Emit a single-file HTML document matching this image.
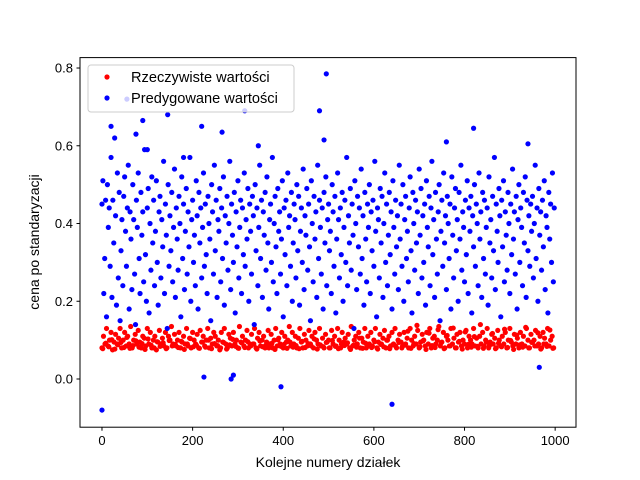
<!DOCTYPE html>
<html><head><meta charset="utf-8"><style>
body{margin:0;background:#fff}
svg{display:block;font-family:"Liberation Sans","DejaVu Sans",sans-serif}
</style></head><body>
<svg id="chart" width="640" height="480">
<rect width="640" height="480" fill="#fff"/>
<g id="red"></g>
<g id="blue"></g>
<rect x="80" y="57.6" width="496" height="369.6" fill="none" stroke="#000" stroke-width="1"/>
<g id="xticks"></g>
<g id="yticks"></g>
<text x="328" y="467" font-size="14" text-anchor="middle">Kolejne numery działek</text>
<text transform="translate(39,242) rotate(-90)" font-size="14" text-anchor="middle">cena po standaryzacji</text>
<g>
<rect x="88" y="65" width="206" height="47" rx="3" fill="#fff" fill-opacity="0.8" stroke="#ccc"/>
<circle cx="107" cy="77" r="2.6" fill="#f00"/>
<text x="131" y="82" font-size="14.6">Rzeczywiste wartości</text>
<circle cx="107" cy="98" r="2.6" fill="#00f"/>
<text x="131" y="103" font-size="14.6">Predygowane wartości</text>
</g>
</svg>
<script>
const xTicks=[0,200,400,600,800,1000];
const yTicks=[0.0,0.2,0.4,0.6,0.8];
const yTickLabels=["0.0","0.2","0.4","0.6","0.8"];
const blueValues=[.45,.51,.22,.31,.46,.16,.50,.39,.44,.29,.57,.21,.46,.35,.62,.42,.19,.53,.26,.48,.15,.33,.41,.24,.47,
.52,.38,.29,.44,.55,.18,.43,.36,.23,.50,.41,.27,.14,.46,.39,.53,.31,.22,.48,.37,.43,.25,.59,.32,.20,
.44,.49,.17,.40,.28,.52,.35,.46,.24,.38,.51,.30,.19,.43,.47,.26,.41,.34,.56,.22,.45,.37,.13,.50,.29,
.42,.33,.48,.25,.39,.54,.21,.44,.36,.28,.47,.40,.16,.52,.31,.45,.23,.38,.49,.27,.43,.34,.57,.20,.41,
.46,.30,.37,.24,.51,.42,.18,.48,.35,.44,.26,.39,.53,.29,.45,.32,.22,.47,.40,.36,.15,.50,.43,.27,.55,
.33,.46,.21,.41,.38,.49,.25,.44,.31,.52,.19,.42,.35,.47,.28,.40,.56,.23,.45,.37,.30,.48,.17,.43,.34,
.51,.26,.39,.46,.22,.44,.32,.53,.29,.41,.36,.49,.20,.45,.38,.27,.47,.42,.14,.50,.33,.44,.24,.39,.55,
.31,.46,.21,.43,.37,.48,.28,.52,.35,.18,.41,.45,.30,.57,.25,.40,.47,.34,.22,.49,.38,.43,.27,.36,.51,
.16,.44,.32,.46,.24,.53,.39,.42,.29,.48,.20,.35,.45,.41,.26,.50,.33,.47,.19,.38,.44,.30,.54,.23,.42,
.37,.49,.28,.45,.34,.15,.51,.40,.25,.47,.36,.43,.21,.55,.31,.46,.39,.27,.44,.18,.48,.35,.52,.24,.41,
.45,.33,.38,.22,.50,.43,.29,.47,.17,.36,.53,.41,.26,.44,.32,.48,.20,.39,.46,.30,.57,.24,.42,.35,.49,
.28,.45,.37,.13,.51,.40,.23,.47,.34,.44,.27,.54,.31,.42,.19,.48,.36,.25,.45,.39,.50,.22,.43,.33,.46,
.29,.56,.38,.16,.44,.41,.26,.49,.35,.47,.21,.40,.53,.30,.45,.24,.37,.48,.32,.43,.18,.51,.39,.27,.46,
.34,.42,.23,.55,.36,.45,.29,.50,.20,.41,.47,.31,.38,.25,.44,.52,.33,.17,.48,.40,.28,.46,.35,.43,.22,
.54,.37,.49,.26,.42,.30,.45,.19,.51,.39,.34,.47,.24,.44,.56,.32,.41,.21,.48,.36,.27,.43,.50,.15,.38,
.46,.29,.53,.35,.42,.23,.47,.40,.31,.45,.18,.52,.37,.26,.44,.49,.33,.41,.20,.48,.36,.55,.28,.43,.39,
.25,.46,.32,.51,.22,.44,.38,.47,.17,.42,.34,.50,.29,.45,.40,.24,.53,.36,.43,.21,.48,.31,.46,.27,.39,
.44,.19,.52,.35,.41,.26,.47,.33,.57,.23,.45,.38,.30,.49,.42,.16,.46,.34,.51,.25,.43,.37,.28,.48,.40,
.22,.45,.32,.54,.36,.43,.27,.47,.18,.41,.50,.30,.44,.39,.24,.48,.35,.52,.21,.46,.33,.42,.29,.45,.38,
.47,.26,.40,.55,.31,.44,.20,.49,.37,.43,.28,.46,.34,.51,.23,.42,.39,.17,.48,.36,.45,.30,.53,.25,.44];
const blueOutlierX=[0,20,55,75,90,145,220,225,265,285,290,315,345,395,480,490,495,640,760,820,940,965,100,180];
const blueOutlierY=[-0.08,0.65,0.72,0.63,0.665,0.68,0.65,0.005,0.635,0,0.01,0.69,0.60,-0.02,0.69,0.615,0.785,-0.065,0.61,0.645,0.605,0.03,0.59,0.57];
const redValues=[.08,.11,.09,.13,.085,.10,.12,.075,.095,.115,.09,.105,.13,.08,.10,.12,.085,.11,.09,.135,.08,.10,.115,.09,.125,
.095,.08,.11,.105,.085,.13,.09,.12,.08,.10,.11,.075,.095,.125,.09,.105,.085,.12,.08,.11,.10,.135,.09,.115,.085,
.10,.12,.08,.095,.11,.09,.13,.085,.105,.08,.12,.10,.09,.115,.08,.125,.095,.11,.085,.10,.13,.08,.105,.09,.12,
.11,.085,.10,.075,.12,.095,.13,.09,.08,.115,.105,.085,.12,.09,.10,.08,.135,.095,.11,.085,.10,.125,.08,.09,.115,
.09,.13,.08,.105,.12,.085,.10,.11,.08,.095,.125,.09,.115,.08,.10,.13,.085,.105,.09,.12,.08,.11,.095,.10,.135,
.085,.12,.09,.11,.08,.105,.13,.095,.08,.115,.10,.085,.125,.09,.11,.08,.12,.10,.09,.13,.085,.105,.08,.115,.095,
.10,.08,.125,.09,.11,.085,.13,.10,.08,.12,.095,.105,.09,.115,.08,.135,.085,.10,.11,.09,.12,.08,.105,.095,.13,
.08,.11,.09,.12,.085,.10,.13,.08,.095,.115,.09,.105,.125,.08,.10,.11,.085,.12,.09,.13,.08,.10,.115,.095,.085,
.12,.09,.105,.08,.13,.10,.085,.11,.09,.125,.08,.095,.115,.10,.085,.12,.09,.13,.08,.105,.11,.09,.10,.135,.085,
.095,.12,.08,.11,.10,.085,.13,.09,.105,.08,.115,.095,.12,.085,.10,.09,.125,.08,.11,.10,.09,.13,.085,.105,.08,
.11,.09,.12,.085,.10,.13,.08,.095,.115,.09,.105,.08,.125,.10,.085,.11,.09,.12,.08,.10,.13,.095,.085,.115,.09,
.105,.08,.12,.09,.11,.085,.13,.10,.08,.115,.095,.10,.125,.085,.09,.11,.08,.12,.105,.09,.13,.085,.10,.11,.08,
.078,.092,.083,.101,.077,.088,.094,.081,.107,.079,.086,.098,.082,.091,.076,.103,.087,.080,.096,.084,.093,.078,.099,.085,.089,
.081,.097,.076,.090,.104,.083,.087,.079,.095,.082,.100,.078,.091,.086,.080,.094,.077,.088,.102,.084,.079,.093,.081,.096,.085,
.090,.077,.098,.083,.087,.080,.092,.076,.101,.084,.089,.079,.095,.082,.086,.078,.097,.081,.091,.085,.103,.077,.088,.083,.094,
.080,.099,.084,.078,.090,.086,.093,.076,.087,.082,.105,.079,.092,.085,.081,.096,.077,.089,.083,.100,.078,.088,.084,.094,.080,
.087,.123,.079,.091,.138,.083,.098,.076,.118,.086,.081,.127,.093,.078,.112,.085,.131,.080,.097,.077,.121,.089,.082,.109,.084,
.140,.079,.095,.086,.117,.078,.092,.083,.128,.081,.099,.076,.113,.088,.082,.133,.080,.094,.085,.119,.077,.090,.084,.126,.079];
const NS="http://www.w3.org/2000/svg";
const X0=80,X1=576,Y0=57.6,Y1=427.2,XMIN=-48.5,XMAX=1046,YMIN=-0.124,YMAX=0.8268;
function xs(v){return X0+(v-XMIN)/(XMAX-XMIN)*(X1-X0);}
function ys(v){return Y1-(v-YMIN)/(YMAX-YMIN)*(Y1-Y0);}
function dot(g,x,y,c){const el=document.createElementNS(NS,"circle");
el.setAttribute("cx",xs(x));el.setAttribute("cy",ys(y));el.setAttribute("r",2.6);el.setAttribute("fill",c);


g.appendChild(el);}
const rg=document.getElementById("red"),bg=document.getElementById("blue");
const half=300;
redValues.forEach((v,i)=>{const x=i<half? i*1000/half : (i-half)*1000/(redValues.length-half)+1.7; dot(rg,x,v,"#f00");});
blueValues.forEach((v,i)=>dot(bg,i*1000/blueValues.length,v,"#00f"));
blueOutlierX.forEach((x,i)=>dot(bg,x,blueOutlierY[i],"#00f"));
const xg=document.getElementById("xticks"),yg=document.getElementById("yticks");
xTicks.forEach(t=>{const x=xs(t);
const l=document.createElementNS(NS,"line");l.setAttribute("x1",x);l.setAttribute("x2",x);l.setAttribute("y1",Y1);l.setAttribute("y2",Y1+3.5);l.setAttribute("stroke","#000");


xg.appendChild(l);
const tx=document.createElementNS(NS,"text");tx.setAttribute("x",x);tx.setAttribute("y",Y1+18);tx.setAttribute("font-size","13");tx.setAttribute("text-anchor","middle");tx.textContent=t;


xg.appendChild(tx);});
yTicks.forEach((t,i)=>{const y=ys(t);
const l=document.createElementNS(NS,"line");l.setAttribute("x1",X0-3.5);l.setAttribute("x2",X0);l.setAttribute("y1",y);l.setAttribute("y2",y);l.setAttribute("stroke","#000");


yg.appendChild(l);
const tx=document.createElementNS(NS,"text");tx.setAttribute("x",X0-7);tx.setAttribute("y",y+4.5);tx.setAttribute("font-size","13");tx.setAttribute("text-anchor","end");tx.textContent=yTickLabels[i];


yg.appendChild(tx);});
</script>
</body></html>
